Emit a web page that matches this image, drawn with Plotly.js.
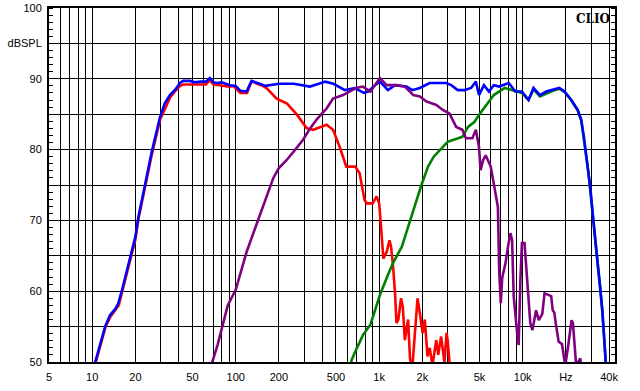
<!DOCTYPE html>
<html>
<head>
<meta charset="utf-8">
<script src="https://cdn.plot.ly/plotly-3.0.1.min.js"></script>
<style>
html,body{margin:0;padding:0;background:#fff;}
#chart{width:640px;height:391px;}
</style>
</head>
<body>
<div id="chart"></div>
<script>
// ---- Data ----
const blueFreq = [10.2,10.5,12.3,13.3,14.5,15.2,16.06,17.9,20,21,23.3,26,29.7,32,34.8,38,40.9,43,48,52,57,62,66,70,74,80,91,100,108,119,129,140,147,161,180,200,254,290,329,380,420,480,577,640,672,720,782,840,920,1013,1080,1150,1290,1550,1700,1920,2250,2930,3180,3530,3920,4370,4720,4960,5370,5820,6290,6860,8010,8880,9880,10980,11900,13200,14600,16200,18000,19600,21800,24200,25600,26700,27800,28800,29700,30600,31400,32600,33800,34700,35900,36800,37800,38500];
const blueDb   = [48.5,50,55,56.6,57.5,58.3,60,64,67.7,70.5,75.2,79.7,84.6,86.5,87.7,88.5,89.4,89.7,89.7,89.5,89.6,89.6,90.1,89.5,89.4,89.5,89.1,89.0,88.3,88.2,89.7,89.5,89.3,89.0,89.2,89.3,89.3,89.1,88.9,89.3,89.6,89.3,88.4,88.6,88.7,88.4,88.0,88.2,89.0,89.6,89.0,88.4,89.1,88.9,88.4,88.7,89.4,89.4,89.1,88.4,88.4,88.7,89.6,87.7,89.1,88.2,89.1,88.9,89.4,88.2,88.2,87.0,88.7,87.7,88.2,88.4,88.7,88.2,87.0,85.6,84.2,81.8,79,76.7,74.3,71.5,69.1,65.8,63,60.7,57.3,54.1,50.3,48];

const redFreq = [10.3,10.6,12.4,13.4,15.3,16.1,18,20,21,23.4,26.1,29.8,35,38,41,43,50,57,62,66,70,77,90,96,108,120,129,151,164,193,228,268,313,347,400,430,477,530,590,680,730,790,820,900,960,1000,1030,1070,1130,1180,1210,1250,1290,1320,1360,1420,1460,1510,1590,1640,1700,1780,1850,1920,2010,2080,2170,2250,2350,2500,2580,2700,2850,2950,3000,3090,3150];
const redDb   = [48.5,50,55,56.4,58,59.7,63.8,67.3,70.2,75,79.4,84.3,87.4,88.3,89.0,89.2,89.2,89.3,89.2,89.8,89.2,89.1,88.9,89.0,88.0,88.0,89.6,89.1,88.7,87.2,86.5,84.9,83.0,82.8,83.3,83.5,82.8,80.4,77.6,77.6,76.7,72.9,72.4,72.4,73.4,72.4,69.1,64.6,65.6,67.2,66.3,63.5,59.7,55.5,56,59,57.8,53.1,56,50.5,49,55,59,56.9,54.1,56,50.8,52,49.5,53.1,51,53.6,50,54.1,53,50,48];

const purpleFreq = [66,68.7,75,88,100,119,140,161,183,200,226,260,295,330,365,400,430,477,560,620,690,770,870,950,1013,1125,1320,1510,1730,1920,2130,2500,2780,3090,3440,3800,4020,4460,4720,4960,5090,5300,5520,5990,6290,6720,6860,7040,7200,7600,7930,8220,8440,8660,9130,9380,9640,9880,10300,10700,11000,11300,11700,12400,12950,13700,14200,14950,15800,16200,16600,17000,17800,18800,19800,20800,21900,22400,23000,23600,25200,26000];
const purpleDb   = [48,50,52.5,58,60.2,65.5,69.5,72.9,76,77.4,78.5,80,81.4,83,84.2,85.1,85.8,87.2,87.7,88.2,88.7,88.9,88.2,89.3,90.1,89.1,89.1,88.9,87.7,87.5,86.8,86.3,85.6,85.1,83.2,82.8,81.6,81.6,82.8,80.4,77.1,78.5,79.2,77.6,75.2,71.9,63,58.3,61.9,64,66.5,68.2,67.2,59.3,54.3,52.4,61.6,66.8,66.8,61.6,59.3,55.5,54.5,57.3,55.9,56.8,59.7,59.5,59.3,57.3,57,55.5,52.9,52.5,49.5,52.4,55.9,55.5,51.5,49.5,50.5,48];

const greenFreq = [620,643,700,770,870,1013,1150,1250,1440,1640,1800,1970,2190,2400,2690,3000,3300,3800,4160,4600,4960,5660,6290,7500,8440,9880,10980,11900,13200,14600,16200,18000,19600,21800,24200,25600,26700,27800,28800,29700,30600,31400,32600,33800,34700,35900,36800,37800,38500];
const greenDb   = [48.5,50.3,52,53.8,55.3,59.5,62.3,64,66.3,70.1,72.5,75,77.6,79,80,81.1,81.4,81.8,83.2,83.9,84.9,86.5,87.7,88.7,88.4,88.0,87.0,88.5,87.5,87.9,88.3,88.6,88.1,87.0,85.5,84.1,81.7,78.9,76.6,74.2,71.4,69.0,65.7,62.9,60.6,57.2,54.0,50.2,48];

const xTickVals = [5,10,20,50,100,200,500,1000,2000,5000,10000,20000,40000];
const xTickText = ['5','10','20','50','100','200','500','1k','2k','5k','10k','Hz','40k'];
const yTickVals = [50,55,60,65,70,75,80,85,90,95,100];
const yTickText = ['50','','60','','70','','80','','90','dBSPL','100'];

// minor vertical grid lines at every 1..9 multiple of each decade
const xMinorVals = [];
[1,10,100,1000,10000].forEach(d => { for (let m = 1; m <= 9; m++) { const v = m*d; if (v >= 5 && v <= 40000) xMinorVals.push(v); } });

const lw = 2.6;
const traces = [
  {x: redFreq, y: redDb, mode: 'lines', line: {color: '#ff0000', width: lw}},
  {x: greenFreq, y: greenDb, mode: 'lines', line: {color: '#008000', width: lw}},
  {x: blueFreq, y: blueDb, mode: 'lines', line: {color: '#0000ff', width: lw}},
  {x: purpleFreq, y: purpleDb, mode: 'lines', line: {color: '#800080', width: lw}}
];

const font = {family: 'Liberation Sans, Arial, sans-serif', size: 11, color: '#000'};

const layout = {
  width: 640, height: 391,
  margin: {l: 49, r: 25, t: 8, b: 29, pad: 0},
  paper_bgcolor: '#fff', plot_bgcolor: '#fff',
  showlegend: false, hovermode: false,
  font: font,
  xaxis: {
    type: 'log', range: [Math.log10(5), Math.log10(44000)],
    tickmode: 'array', tickvals: xTickVals, ticktext: xTickText,
    showgrid: true, gridcolor: '#000', gridwidth: 1,
    ticks: '', showline: true, linecolor: '#000', linewidth: 2, mirror: true,
    zeroline: false, tickfont: font, ticklabelstandoff: 4,
    minor: {tickmode: 'array', tickvals: xMinorVals, showgrid: true, gridcolor: '#000', gridwidth: 1, ticks: ''}
  },
  yaxis: {
    range: [50, 100],
    tickmode: 'array', tickvals: yTickVals, ticktext: yTickText,
    showgrid: true, gridcolor: '#000', gridwidth: 1,
    ticks: '', showline: true, linecolor: '#000', linewidth: 2, mirror: 'allticks',
    zeroline: false, tickfont: font, ticklabelstandoff: 3,
    minor: {dtick: 1, ticks: 'inside', ticklen: 4, tickcolor: '#000', tickwidth: 1, showgrid: false}
  },
  annotations: [{
    text: '<b>CLIO</b>', xref: 'paper', yref: 'paper', x: 0.995, y: 0.995,
    xanchor: 'right', yanchor: 'top', showarrow: false,
    font: {family: 'DejaVu Serif, Liberation Serif, serif', size: 12, color: '#000'}
  }]
};

Plotly.newPlot('chart', traces, layout, {displayModeBar: false, staticPlot: true});
</script>
</body>
</html>
